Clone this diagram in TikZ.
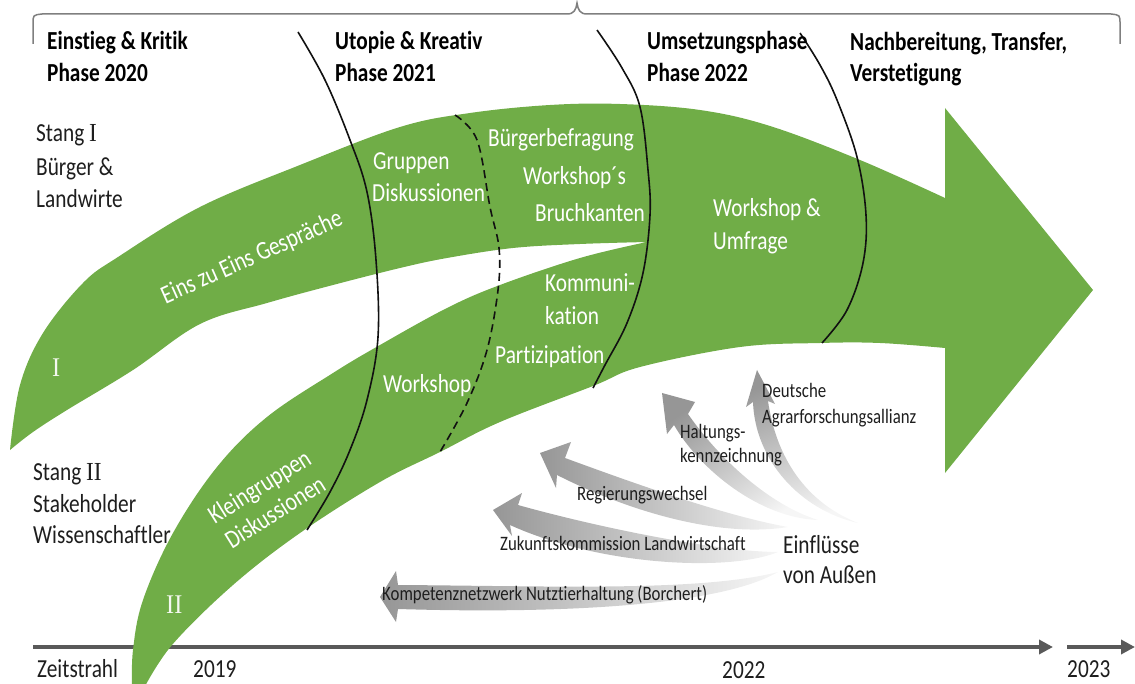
\documentclass[tikz,border=0pt]{standalone}
\usepackage{fontspec}
\setmainfont{Carlito}[FakeStretch=0.82, Ligatures=NoCommon]
\newfontfamily\numfont{Liberation Serif}[FakeStretch=0.9]
\usetikzlibrary{arrows.meta}
\definecolor{leafgreen}{HTML}{70AD47}
\definecolor{lineink}{HTML}{111111}
\definecolor{textink}{HTML}{1E1E1E}
\definecolor{axisgray}{HTML}{595959}
\definecolor{bracegray}{HTML}{7F7F7F}
\definecolor{infludark}{RGB}{150,150,150}
\definecolor{infmid}{RGB}{190,190,190}
\definecolor{influlight}{RGB}{246,246,246}
\begin{document}
\begin{tikzpicture}[x=1pt,y=-1pt,
  oneline/.style={anchor=base west, inner sep=0pt, text height=0.68em, text depth=0.18em},
  headtext/.style={oneline, font=\bfseries\fontsize{26}{30}\selectfont, text=black},
  sidetext/.style={oneline, font=\fontsize{26}{30}\selectfont, text=textink},
  bandtext/.style={oneline, font=\fontsize{26}{30}\selectfont, text=white},
  rottext/.style={font=\fontsize{26}{30}\selectfont, inner sep=0pt, text=white, align=center},
  numeral/.style={oneline, font=\numfont\fontsize{27}{30}\selectfont, text=white!92!leafgreen},
  inftext/.style={oneline, font=\fontsize{20.5}{24}\selectfont, text=textink},
  phaseline/.style={lineink, line width=1.6pt},
  influence/.style={draw=none},
]
\useasboundingbox (0,0) rectangle (1135,684);

% time axis
\coordinate (ax0) at (33,647);
\coordinate (ax1) at (1053,647);
\coordinate (ax2) at (1067,647);
\coordinate (ax3) at (1135,647);
\draw[axisgray, line width=4.2pt, -{Triangle[length=14pt,width=14pt]}] (ax0) -- (ax1);
\draw[axisgray, line width=4.2pt, -{Triangle[length=14pt,width=14pt]}] (ax2) -- (ax3);

% overall brace
\draw[bracegray, line width=1.5pt] (33,44) -- (33,24) .. controls (33,15) .. (42,14) -- (567,14)
  .. controls (574,14) and (576,10) .. (577,3) .. controls (578,10) and (580,14) .. (587,14)
  -- (1111,14) .. controls (1120,15) .. (1120,24) -- (1120,44);

% the two strands joined into one arrow
\fill[leafgreen]
  plot[smooth, tension=0.6] coordinates {(10,450) (20,385) (43,333) (83,283) (118,257) (200,207) (300,165) (400,127) (470,113) (550,105) (620,104) (700,110) (770,126) (860,160) (945,198)}
  -- (945,108) -- (1093,290) -- (945,473) -- (945,348)
  -- plot[smooth, tension=0.6] coordinates {(945,348) (880,343) (820,343) (740,347) (640,367) (593,386) (500,422) (440,452) (380,482) (300,533) (233,585) (172,645) (143,690)}
  -- (132,690)
  -- plot[smooth, tension=0.6] coordinates {(132,690) (133,650) (143,600) (173,533) (217,467) (267,417) (333,373) (380,345) (447,308) (500,285) (580,258) (647,242)}
  -- plot[smooth, tension=0.6] coordinates {(647,242) (580,244) (513,248) (447,258) (400,268) (333,285) (267,303) (200,324) (133,370) (67,410) (33,432) (10,450)}
  -- cycle;

% phase boundaries
\draw[phaseline] plot[smooth, tension=0.6] coordinates {(298,32) (325,80) (350,140) (367,192) (376,260) (378,337) (367,400) (350,450) (330,492) (307,530)};
\draw[phaseline, dash pattern=on 8pt off 5pt] plot[smooth, tension=0.6] coordinates {(455,115) (477,140) (490,207) (499,248) (498,290) (487,350) (467,403) (440,452)};
\draw[phaseline] plot[smooth, tension=0.6] coordinates {(597,30) (622,68) (640,107) (648,170) (650,215) (643,273) (627,323) (605,365) (593,388)};
\draw[phaseline] plot[smooth, tension=0.6] coordinates {(800,33) (820,65) (837,100) (857,157) (866,215) (863,263) (847,310) (822,343)};

% outside influences, curved arrows
\shade[influence, left color=infludark, middle color=infmid, right color=influlight]
  (380,597) -- (396,571) -- (398,585) .. controls (550,586) and (700,592) .. (778,572)
  .. controls (720,606) and (560,614) .. (398,609) -- (396,622) -- cycle;
\shade[influence, left color=infludark, middle color=infmid, right color=influlight]
  (493,510) -- (522,493) -- (518,505) .. controls (600,528) and (720,552) .. (778,552)
  .. controls (730,572) and (600,566) .. (510,525) -- (512,536) -- cycle;
\shade[influence, left color=infludark, middle color=infmid, right color=influlight]
  (540,453) -- (571,442) -- (565,458) .. controls (620,478) and (720,515) .. (788,527)
  .. controls (720,538) and (630,512) .. (557,475) -- (556,488) -- cycle;
\shade[influence, top color=infludark, middle color=infmid, bottom color=influlight, shading angle=35]
  (662,393) -- (695,402) -- (688,414) .. controls (720,460) and (770,505) .. (818,520)
  .. controls (760,518) and (700,470) .. (674,425) -- (667,434) -- cycle;
\shade[influence, top color=infludark, middle color=infmid, bottom color=influlight, shading angle=20]
  (757,370) -- (775,404) -- (768,401) .. controls (775,450) and (800,500) .. (858,523)
  .. controls (800,510) and (755,460) .. (753,402) -- (746,407) -- cycle;

% phase headings
\node[headtext] (h1a) at (47,50) {Einstieg \& Kritik};
\node[headtext] (h1b) at (47,82) {Phase 2020};
\node[headtext] (h2a) at (335,50) {Utopie \& Kreativ};
\node[headtext] (h2b) at (335,82) {Phase 2021};
\node[headtext] (h3a) at (647,50) {Umsetzungsphase};
\node[headtext] (h3b) at (647,82) {Phase 2022};
\node[headtext] (h4a) at (850,51) {Nachbereitung, Transfer,};
\node[headtext] (h4b) at (850,82) {Verstetigung};

% strand labels
\node[sidetext] (s1a) at (36,142) {Stang {\numfont I}};
\node[sidetext] (s1b) at (36,176) {Bürger \&};
\node[sidetext] (s1c) at (36,208) {Landwirte};
\node[sidetext] (s2a) at (33,480) {Stang {\numfont II}};
\node[sidetext] (s2b) at (33,512) {Stakeholder};
\node[sidetext] (s2c) at (33,543) {Wissenschaftler};

% axis labels
\node[sidetext] (t0) at (37,677) {Zeitstrahl};
\node[sidetext] (t1) at (193,677) {2019};
\node[sidetext] (t2) at (722,678) {2022};
\node[sidetext] (t3) at (1067,677) {2023};

% texts on the strands
\node[numeral] (n1) at (52,377) {I};
\node[numeral] (n2) at (166,613) {II};
\node[rottext, rotate=24] (e1) at (252,258) {Eins zu Eins Gespräche};
\node[rottext, rotate=32] (k1) at (267,499) {Kleingruppen\\Diskussionen};
\node[bandtext] (g1) at (373,170) {Gruppen};
\node[bandtext] (g2) at (372,202) {Diskussionen};
\node[bandtext] (b1) at (488,147) {Bürgerbefragung};
\node[bandtext] (b2) at (523,185) {Workshop´s};
\node[bandtext] (b3) at (535,222) {Bruchkanten};
\node[bandtext] (w1) at (713,217) {Workshop \&};
\node[bandtext] (w2) at (713,250) {Umfrage};
\node[bandtext] (c1) at (545,292) {Kommuni-};
\node[bandtext] (c2) at (545,325) {kation};
\node[bandtext] (c3) at (495,363) {Partizipation};
\node[bandtext] (c4) at (383,392) {Workshop};

% influence labels
\node[inftext] (i5a) at (762,397) {Deutsche};
\node[inftext] (i5b) at (762,423) {Agrarforschungsallianz};
\node[inftext] (i4a) at (680,438) {Haltungs-};
\node[inftext] (i4b) at (680,462) {kennzeichnung};
\node[inftext] (i3) at (577,500) {Regierungswechsel};
\node[inftext] (i2) at (500,550) {Zukunftskommission Landwirtschaft};
\node[inftext] (i1) at (382,600) {Kompetenznetzwerk Nutztierhaltung (Borchert)};
\node[sidetext] (ea) at (783,553) {Einflüsse};
\node[sidetext] (eb) at (783,583) {von Außen};
\end{tikzpicture}
\end{document}
